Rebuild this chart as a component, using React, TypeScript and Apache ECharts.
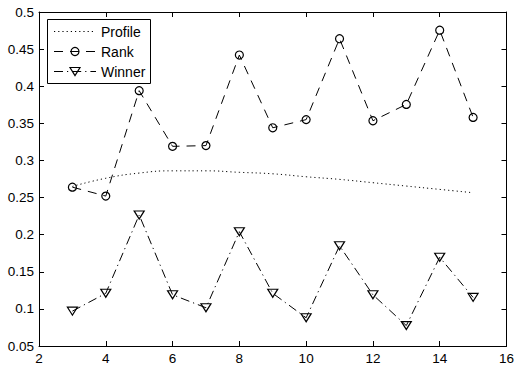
import React, { useEffect, useRef } from "react";
import * as echarts from "echarts";

const xValues = [3, 4, 5, 6, 7, 8, 9, 10, 11, 12, 13, 14, 15];
const profile = [0.265, 0.276, 0.283, 0.286, 0.286, 0.284, 0.282, 0.278, 0.2745, 0.27, 0.2655, 0.261, 0.2565];
const rank = [0.264, 0.252, 0.394, 0.319, 0.32, 0.442, 0.344, 0.355, 0.464, 0.3535, 0.3755, 0.4755, 0.358];
const winner = [0.097, 0.121, 0.2265, 0.119, 0.1015, 0.204, 0.121, 0.088, 0.185, 0.119, 0.0775, 0.1695, 0.1155];
const seriesNames = ["Profile", "Rank", "Winner"];

const FONT = "Liberation Sans, Arial, Helvetica, sans-serif";
const DOT = [1.2, 3];
const DASH = [9, 7];
const DASHDOT = [9, 4, 1.2, 4];

export default function App() {
  const ref = useRef<HTMLDivElement>(null);
  useEffect(() => {
    const chart = echarts.init(ref.current!, null, { renderer: "svg" });
    const pair = (ys: number[]) => xValues.map((x, i) => [x, ys[i]]);
    const axisCommon = {
      axisLine: { show: true, onZero: false, lineStyle: { color: "#000", width: 1 } },
      axisTick: { show: true, inside: true, length: 5, lineStyle: { color: "#000" } },
      splitLine: { show: false },
    };

    // legend drawn as graphics
    const lx0 = 54, lx1 = 96, lmid = 75, tx = 101;
    const rows = [31.5, 51.5, 71.5];
    const legendEls: any[] = [
      {
        type: "rect",
        shape: { x: 47.5, y: 19.5, width: 103, height: 64 },
        style: { fill: "#fff", stroke: "#000", lineWidth: 1 },
        z: 100,
      },
      {
        type: "line",
        shape: { x1: lx0, y1: rows[0], x2: lx1, y2: rows[0] },
        style: { stroke: "#000", lineWidth: 1, lineDash: DOT },
        z: 101,
      },
      {
        type: "line",
        shape: { x1: lx0, y1: rows[1], x2: lx1, y2: rows[1] },
        style: { stroke: "#000", lineWidth: 1, lineDash: DASH },
        z: 101,
      },
      {
        type: "circle",
        shape: { cx: lmid, cy: rows[1], r: 4 },
        style: { fill: "none", stroke: "#000", lineWidth: 1.2 },
        z: 102,
      },
      {
        type: "line",
        shape: { x1: lx0, y1: rows[2], x2: lx1, y2: rows[2] },
        style: { stroke: "#000", lineWidth: 1, lineDash: DASHDOT },
        z: 101,
      },
      {
        type: "polygon",
        shape: { points: [[lmid - 5, rows[2] - 4], [lmid + 5, rows[2] - 4], [lmid, rows[2] + 4]] },
        style: { fill: "none", stroke: "#000", lineWidth: 1.2 },
        z: 102,
      },
    ];
    seriesNames.forEach((n, i) => {
      legendEls.push({
        type: "text",
        x: tx,
        y: rows[i],
        style: { text: n, fontFamily: FONT, fontSize: 14, fill: "#000", verticalAlign: "middle", align: "left" },
        z: 102,
      });
    });

    chart.setOption({
      animation: false,
      backgroundColor: "#fff",
      grid: { left: 39, right: 9, top: 12, bottom: 19 },
      graphic: { elements: legendEls },
      xAxis: [
        {
          type: "value", min: 2, max: 16, interval: 2, position: "bottom",
          ...axisCommon,
          axisLabel: { color: "#000", fontFamily: FONT, fontSize: 13.5, margin: 5 },
        },
        {
          type: "value", min: 2, max: 16, interval: 2, position: "top",
          ...axisCommon,
          axisLabel: { show: false },
        },
      ],
      yAxis: [
        {
          type: "value", min: 0.05, max: 0.5, interval: 0.05, position: "left",
          ...axisCommon,
          axisLabel: { color: "#000", fontFamily: FONT, fontSize: 13.5, margin: 5 },
        },
        {
          type: "value", min: 0.05, max: 0.5, interval: 0.05, position: "right",
          ...axisCommon,
          axisLabel: { show: false },
        },
      ],
      series: [
        {
          name: seriesNames[0],
          type: "line",
          data: pair(profile),
          smooth: true,
          symbol: "none",
          lineStyle: { color: "#000", width: 1, type: DOT },
          itemStyle: { color: "#000" },
        },
        {
          name: seriesNames[1],
          type: "line",
          data: pair(rank),
          symbol: "circle",
          symbolSize: 8,
          lineStyle: { color: "#000", width: 1, type: DASH },
          itemStyle: { color: "rgba(0,0,0,0)", borderColor: "#000", borderWidth: 1.2 },
        },
        {
          name: seriesNames[2],
          type: "line",
          data: pair(winner),
          symbol: "triangle",
          symbolRotate: 180,
          symbolSize: [10, 8],
          lineStyle: { color: "#000", width: 1, type: DASHDOT },
          itemStyle: { color: "rgba(0,0,0,0)", borderColor: "#000", borderWidth: 1.2 },
        },
      ],
    });
    return () => chart.dispose();
  }, []);
  return <div ref={ref} style={{ width: 517, height: 365, position: "absolute", left: 0, top: 0 }} />;
}
